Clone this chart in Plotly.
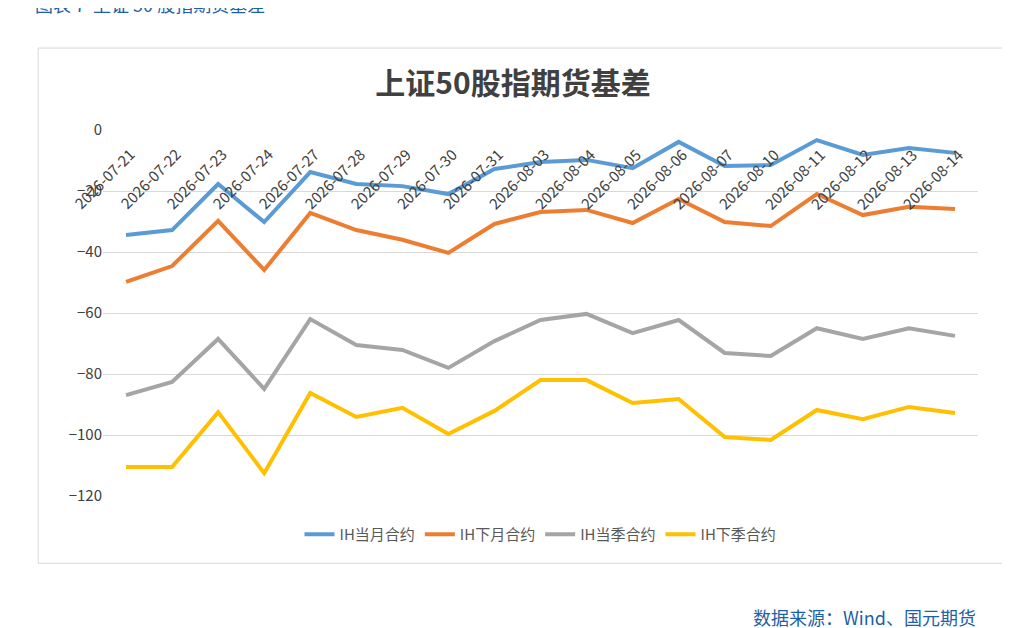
import plotly.graph_objects as go

dates = ["2026-07-21", "2026-07-22", "2026-07-23", "2026-07-24", "2026-07-27", "2026-07-28",
         "2026-07-29", "2026-07-30", "2026-07-31", "2026-08-03", "2026-08-04", "2026-08-05",
         "2026-08-06", "2026-08-07", "2026-08-10", "2026-08-11", "2026-08-12", "2026-08-13",
         "2026-08-14"]
ih_cur_month = [-34.4, -32.8, -17.7, -30.2, -13.8, -17.7, -18.4, -21.0, -12.8, -10.5, -9.8,
                -12.5, -3.9, -11.8, -11.5, -3.3, -8.2, -5.9, -7.5]
ih_next_month = [-49.8, -44.6, -29.8, -45.9, -27.2, -32.8, -36.0, -40.3, -30.8, -26.9, -26.2,
                 -30.5, -22.6, -30.2, -31.5, -21.0, -27.9, -25.2, -25.9]
ih_cur_quarter = [-86.9, -82.6, -68.5, -84.9, -62.0, -70.5, -72.1, -78.0, -69.2, -62.3, -60.3,
                  -66.6, -62.3, -73.1, -74.1, -65.0, -68.5, -65.0, -67.5]
ih_next_quarter = [-110.5, -110.5, -92.5, -112.5, -86.2, -94.1, -91.1, -99.7, -92.1, -82.0, -82.0,
                   -89.5, -88.2, -100.7, -101.6, -91.8, -94.8, -90.8, -92.8]

series = [("IH当月合约", ih_cur_month, "#5B9BD5"),
          ("IH下月合约", ih_next_month, "#ED7D31"),
          ("IH当季合约", ih_cur_quarter, "#A5A5A5"),
          ("IH下季合约", ih_next_quarter, "#FFC000")]

fig = go.Figure()
for name, vals, color in series:
    fig.add_trace(go.Scatter(x=dates, y=vals, name=name, mode="lines",
                             line=dict(color=color, width=4)))

# date labels sit inside the plot just under the zero line, like the original
date_labels = [dict(x=d, y=-16, xref="x", yref="y", text=d, textangle=-45, showarrow=False,
                    xshift=-22, font=dict(size=15, color="#404040")) for d in dates]

fig.update_layout(
    width=1010, height=628,
    paper_bgcolor="white", plot_bgcolor="white",
    font=dict(family="Noto Sans CJK SC", color="#595959", size=14),
    margin=dict(l=95, r=40, t=122, b=140, autoexpand=False),
    title=dict(text="<b>上证50股指期货基差</b>", x=0.5, xanchor="center", y=0.88,
               yanchor="middle", font=dict(size=30, color="#404040")),
    legend=dict(orientation="h", x=0.5, xanchor="center", y=-0.06, yanchor="top",
                font=dict(size=15)),
    shapes=[dict(type="rect", xref="paper", yref="paper", x0=-0.074, x1=1.028,
                 y0=-0.184, y1=1.224, line=dict(color="#D9D9D9", width=1))],
    annotations=date_labels + [
        dict(text="图表 7  上证 50 股指期货基差", xref="paper", yref="paper", x=-0.08, y=1.345,
             xanchor="left", yanchor="middle", showarrow=False, font=dict(size=18, color="#1F5FA8")),
        dict(text="数据来源：Wind、国元期货", xref="paper", yref="paper", x=1.0, y=-0.33,
             xanchor="right", yanchor="middle", showarrow=False, font=dict(size=18, color="#1F5FA8")),
    ],
)
fig.update_xaxes(type="category", range=[-0.5, len(dates) - 0.5], showticklabels=False,
                 showgrid=False, showline=False, ticks="")
fig.update_yaxes(range=[-120, 0], dtick=20, gridcolor="#D9D9D9", zeroline=False,
                 ticks="", tickfont=dict(size=15, color="#404040"))

fig.write_html("out.html")
